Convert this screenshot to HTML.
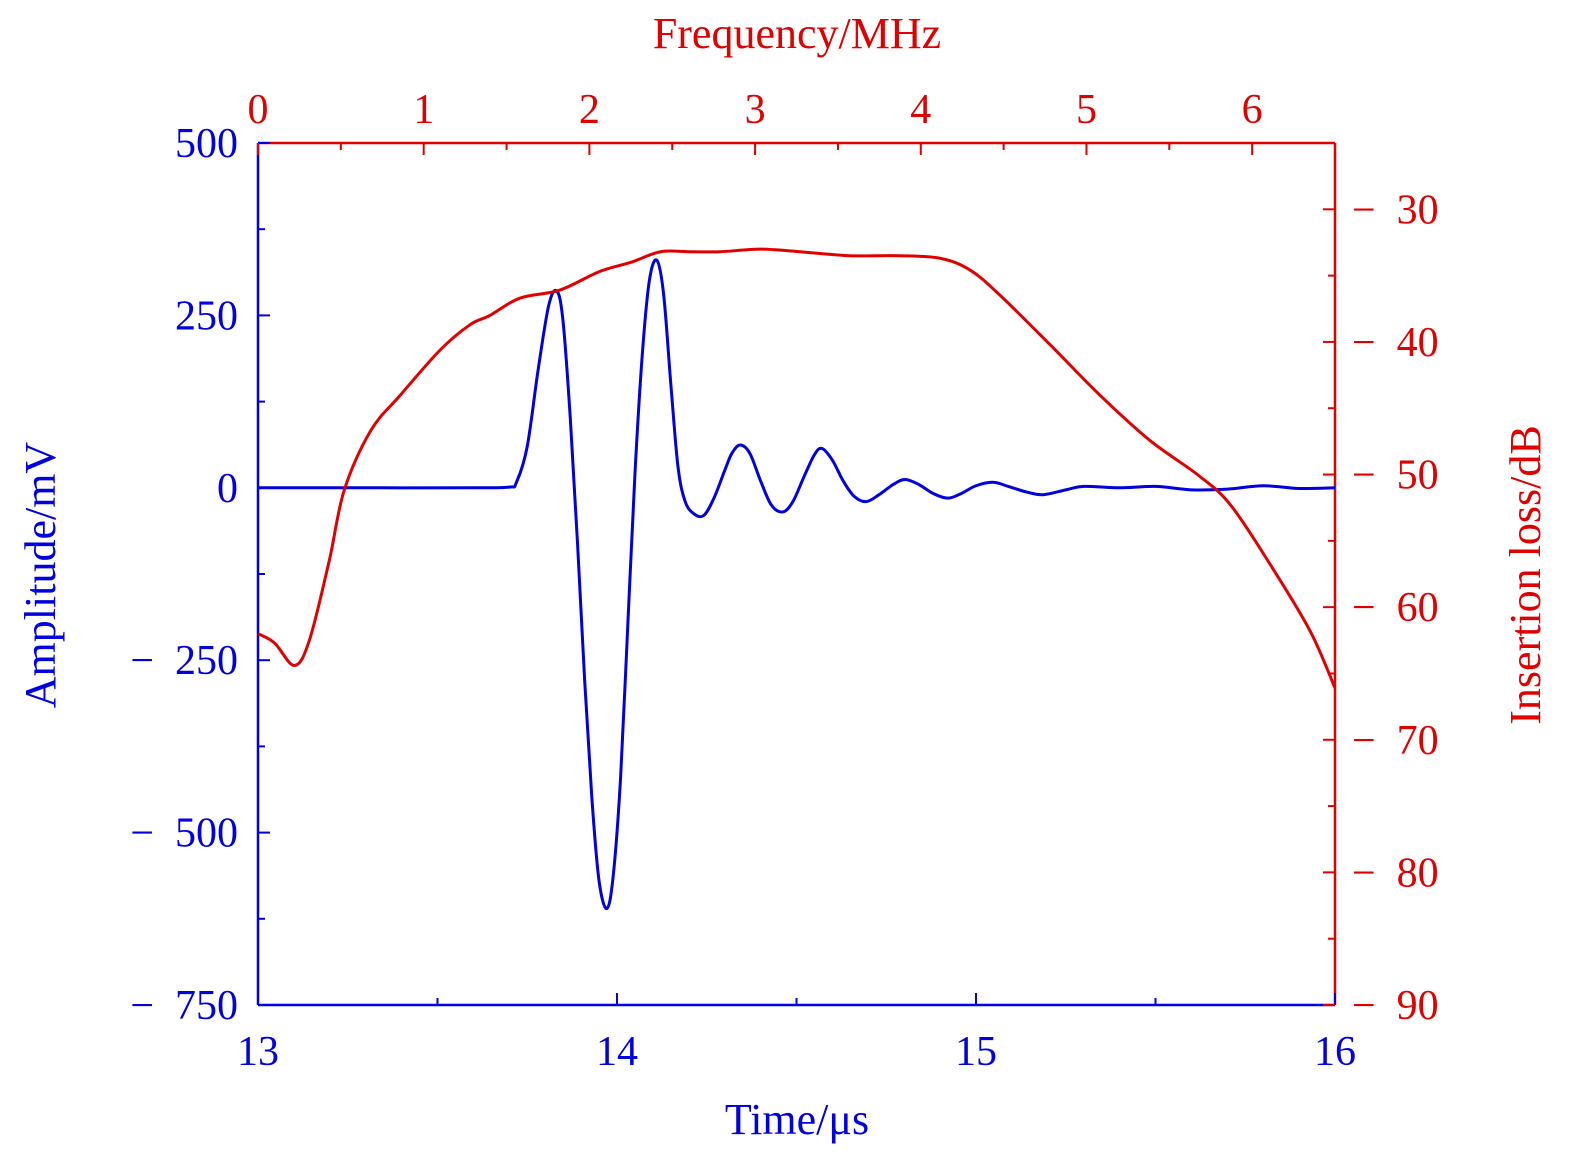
<!DOCTYPE html>
<html><head><meta charset="utf-8"><style>
body{margin:0;background:#fff}
svg{display:block;font-family:"Liberation Serif",serif}
</style></head><body>
<svg id="chart" width="1575" height="1161" viewBox="0 0 1575 1161" xmlns="http://www.w3.org/2000/svg">
<g id="axes"></g>
<g id="series"></g>
<text x="797" y="1134" font-size="44" fill="#0000e0" text-anchor="middle">Time/μs</text>
<text x="797" y="48" font-size="44" fill="#e00000" text-anchor="middle">Frequency/MHz</text>
<text transform="translate(55,575) rotate(-90)" font-size="44" fill="#0000e0" text-anchor="middle">Amplitude/mV</text>
<text transform="translate(1540,575) rotate(-90)" font-size="44" fill="#e00000" text-anchor="middle">Insertion loss/dB</text>
</svg>
<script>
const timeVals=[13.0,13.3,13.6,13.70,13.72,13.75,13.78,13.81,13.833,13.85,13.87,13.89,13.91,13.93,13.95,13.972,13.99,14.01,14.03,14.05,14.07,14.09,14.111,14.13,14.15,14.17,14.19,14.215,14.242,14.27,14.30,14.32,14.343,14.37,14.40,14.43,14.462,14.49,14.52,14.55,14.571,14.60,14.63,14.66,14.694,14.73,14.77,14.802,14.84,14.88,14.922,14.96,15.00,15.047,15.09,15.14,15.187,15.25,15.30,15.40,15.50,15.60,15.70,15.80,15.90,16.0];
const ampVals=[0,0,0,1,8,60,170,265,285,240,100,-80,-280,-450,-570,-610,-560,-420,-200,20,190,300,330,280,150,30,-20,-38,-40,-15,25,50,62,50,10,-25,-35,-20,15,48,57,40,10,-12,-20,-10,5,12,5,-8,-15,-8,3,8,2,-6,-10,-3,2,0,2,-3,-2,3,-1,0];
const freqVals=[0,0.10,0.22,0.31,0.43,0.52,0.68,0.86,1.10,1.28,1.40,1.58,1.82,2.06,2.25,2.43,2.61,2.79,3.03,3.27,3.57,3.87,4.12,4.30,4.48,4.78,5.08,5.38,5.68,5.87,6.11,6.35,6.5];
const lossVals=[-62.0,-62.7,-64.4,-62.5,-56.5,-51.2,-46.7,-44.0,-40.6,-38.7,-38.0,-36.7,-36.1,-34.7,-34.0,-33.2,-33.2,-33.2,-33.0,-33.2,-33.5,-33.5,-33.7,-34.6,-36.5,-40.2,-44.0,-47.4,-50.1,-52.3,-56.8,-61.8,-66.1];
const xTicks=[13,14,15,16];
const ampTicks=[500,250,0,-250,-500,-750];
const freqTicks=[0,1,2,3,4,5,6];
const lossTicks=[-30,-40,-50,-60,-70,-80,-90];

const L=258,R=1335,T=143,B=1005;
const xT=t=>L+(t-13)/3*(R-L);
const yA=a=>T+(500-a)/1250*(B-T);
const xF=f=>L+f/6.5*(R-L);
const yL=d=>T+(-25-d)/65*(B-T);
const NS="http://www.w3.org/2000/svg";
const ax=document.getElementById('axes'),se=document.getElementById('series');
function mk(tag,attrs,parent,txt){const e=document.createElementNS(NS,tag);for(const k in attrs)e.setAttribute(k,attrs[k]);if(txt!==undefined)e.textContent=txt;parent.appendChild(e);return e;}
const BL="#0000e0",RD="#e00000";
const fmt=v=>v<0?"\u2212\u2002"+Math.abs(v):String(v);
let e;
e=mk('line',{x1:L,y1:B,x2:R,y2:B,stroke:BL,'stroke-width':2.5},ax);

e=mk('line',{x1:L,y1:T,x2:L,y2:B,stroke:BL,'stroke-width':2.5},ax);

e=mk('line',{x1:L,y1:T,x2:R,y2:T,stroke:RD,'stroke-width':2.5},ax);

e=mk('line',{x1:R,y1:T,x2:R,y2:B,stroke:RD,'stroke-width':2.5},ax);

for(let t=13;t<=16.001;t+=0.5){const x=xT(t),maj=Math.abs(t-Math.round(t))<1e-6;
e=mk('line',{x1:x,y1:B,x2:x,y2:B-(maj?12:7),stroke:BL,'stroke-width':2},ax);
}
xTicks.forEach(t=>{e=mk('text',{x:xT(t),y:B+60,'font-size':42,fill:BL,'text-anchor':'middle'},ax,String(t));
});
for(let a=-750;a<=500;a+=125){const y=yA(a),maj=a%250===0;
e=mk('line',{x1:L,y1:y,x2:L+(maj?12:7),y2:y,stroke:BL,'stroke-width':2},ax);
}
ampTicks.forEach(a=>{e=mk('text',{x:238,y:yA(a)+14,'font-size':42,fill:BL,'text-anchor':'end'},ax,fmt(a));
});
for(let f=0;f<=6.5001;f+=0.5){const x=xF(f),maj=Math.abs(f-Math.round(f))<1e-6;
e=mk('line',{x1:x,y1:T,x2:x,y2:T+(maj?12:7),stroke:RD,'stroke-width':2},ax);
}
freqTicks.forEach(f=>{e=mk('text',{x:xF(f),y:T-20,'font-size':42,fill:RD,'text-anchor':'middle'},ax,String(f));
});
for(let d=-90;d<=-25;d+=5){const y=yL(d),maj=d%10===0;
e=mk('line',{x1:R,y1:y,x2:R-(maj?12:7),y2:y,stroke:RD,'stroke-width':2},ax);
}
lossTicks.forEach(d=>{e=mk('text',{x:1352,y:yL(d)+14,'font-size':42,fill:RD,'text-anchor':'start'},ax,fmt(d));
});
function path(pts){let d="M"+pts[0][0]+","+pts[0][1];
for(let i=0;i<pts.length-1;i++){const p0=pts[Math.max(0,i-1)],p1=pts[i],p2=pts[i+1],p3=pts[Math.min(pts.length-1,i+2)];
const c1=[p1[0]+(p2[0]-p0[0])/6,p1[1]+(p2[1]-p0[1])/6],c2=[p2[0]-(p3[0]-p1[0])/6,p2[1]-(p3[1]-p1[1])/6];
d+=" C"+c1.join(",")+" "+c2.join(",")+" "+p2.join(",");}return d;}
e=mk('path',{d:path(timeVals.map((t,i)=>[xT(t),yA(ampVals[i])])),fill:'none',stroke:BL,'stroke-width':3,'stroke-linejoin':'round'},se);

e=mk('path',{d:path(freqVals.map((f,i)=>[xF(f),yL(lossVals[i])])),fill:'none',stroke:RD,'stroke-width':3,'stroke-linejoin':'round'},se);

</script>
</body></html>
